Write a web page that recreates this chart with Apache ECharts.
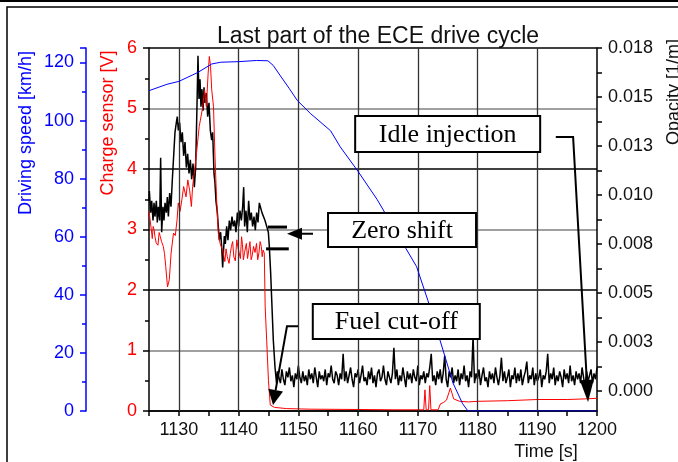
<!DOCTYPE html>
<html>
<head>
<meta charset="utf-8">
<script src="https://cdn.jsdelivr.net/npm/echarts@6/dist/echarts.min.js"></script>
<style>
  html, body { margin: 0; padding: 0; background: #fff; }
  #chart { width: 678px; height: 462px; }
</style>
</head>
<body>
<div id="chart"></div>
<script>
// Driving speed [km/h], [time s, value]
const speedData = [
  [1125, 110.3], [1128, 112.5], [1130, 113.5], [1133.2, 116.6], [1135.5, 119.5],
  [1137, 120.1], [1140, 120.3], [1143, 120.7], [1144.9, 120.6], [1145.8, 119],
  [1146.9, 115.7], [1148.5, 111], [1149.8, 107], [1152, 102.5], [1155.4, 96.5],
  [1157, 91], [1160, 82.5], [1163.2, 72.8], [1165, 66.5], [1168, 56], [1169.8, 49.7],
  [1171.7, 38], [1173.7, 24.5], [1175.9, 9.6], [1177.5, 2.5], [1178.4, 0], [1200, 0]
];

// Charge sensor [V]
const chargeData = [
  [1125.0, 3.3], [1125.2, 3.27], [1125.4, 2.99], [1125.55, 2.85], [1125.7, 3.05], [1125.85, 3.0],
  [1126.0, 2.88], [1126.2, 2.78], [1126.5, 2.74], [1126.7, 2.95], [1126.9, 2.88], [1127.1, 2.8],
  [1127.4, 2.72], [1127.6, 2.6], [1127.8, 2.39], [1128.1, 2.05], [1128.4, 2.17], [1128.7, 2.61],
  [1129.1, 2.94], [1129.4, 2.9], [1129.7, 3.16], [1129.9, 3.44], [1130.2, 3.3], [1130.5, 3.49],
  [1130.8, 3.71], [1131.2, 3.54], [1131.5, 3.82], [1131.8, 3.65], [1132.1, 3.38], [1132.3, 3.71],
  [1132.7, 4.04], [1133.0, 4.31], [1133.4, 4.7], [1133.7, 4.86], [1134.0, 5.03], [1134.3, 5.31],
  [1134.6, 5.03], [1134.9, 5.58], [1135.1, 5.86], [1135.3, 5.7], [1135.5, 5.31], [1135.8, 5.03],
  [1136.05, 4.2], [1136.3, 3.54], [1136.6, 2.94], [1136.9, 2.77], [1137.3, 2.66], [1137.5, 2.58],
  [1137.7, 2.47], [1137.9, 2.68], [1138.1, 2.55], [1138.4, 2.44], [1138.6, 2.6], [1138.8, 2.72],
  [1139.0, 2.8], [1139.2, 2.55], [1139.45, 2.48], [1139.7, 2.83], [1139.9, 2.7], [1140.1, 2.61],
  [1140.3, 2.52], [1140.5, 2.88], [1140.65, 2.75], [1140.8, 2.5], [1141.0, 2.62], [1141.3, 2.77],
  [1141.5, 2.52], [1141.7, 2.66], [1141.9, 2.8], [1142.1, 2.5], [1142.3, 2.58], [1142.5, 2.72],
  [1142.75, 2.62], [1143.0, 2.77], [1143.2, 2.5], [1143.4, 2.61], [1143.6, 2.8], [1143.8, 2.72],
  [1143.95, 2.55], [1144.1, 2.66], [1144.3, 2.61], [1144.45, 1.72], [1144.7, 1.17], [1145.0, 0.5],
  [1145.3, 0.1], [1146, 0.06], [1148, 0.04], [1152, 0.03], [1160, 0.025], [1166, 0.02],
  [1171.0, 0.02], [1171.2, 0.35], [1171.4, 0.02], [1171.8, 0.02], [1172.0, 0.42], [1172.2, 0.02],
  [1173.4, 0.02], [1173.8, 0.12], [1174.3, 0.14], [1174.8, 0.18], [1175.2, 0.3], [1175.45, 0.38],
  [1175.7, 0.3], [1176.0, 0.2], [1177, 0.16], [1178.5, 0.15], [1180, 0.16], [1185, 0.17],
  [1190, 0.19], [1195, 0.19], [1198, 0.2], [1200, 0.21]
];

// Opacity [1/m], before the fuel cut-off
const opacityEarly = [
  [1125.0, 0.0097], [1125.06, 0.0102], [1125.28, 0.0091], [1125.45, 0.0097], [1125.67, 0.0087],
  [1125.84, 0.0096], [1126.0, 0.0089], [1126.23, 0.0097], [1126.39, 0.0086], [1126.56, 0.0094],
  [1126.79, 0.0087], [1126.95, 0.0119], [1127.12, 0.0081], [1127.34, 0.0094], [1127.51, 0.0087],
  [1127.68, 0.0096], [1127.9, 0.0091], [1128.07, 0.0099], [1128.24, 0.0089], [1128.46, 0.0101],
  [1128.68, 0.0094], [1128.91, 0.0108], [1129.13, 0.012], [1129.35, 0.0132], [1129.58, 0.0137],
  [1129.74, 0.014], [1129.91, 0.0133], [1130.13, 0.0137], [1130.36, 0.0127], [1130.58, 0.0132],
  [1130.8, 0.012], [1131.03, 0.0127], [1131.25, 0.0114], [1131.47, 0.0121], [1131.7, 0.0111],
  [1131.92, 0.0118], [1132.14, 0.0108], [1132.37, 0.0116], [1132.59, 0.0104], [1132.81, 0.0114],
  [1133.03, 0.0145], [1133.2, 0.0171], [1133.37, 0.0149], [1133.54, 0.0159], [1133.7, 0.0145],
  [1133.87, 0.0154], [1134.04, 0.0143], [1134.21, 0.0155], [1134.37, 0.0147], [1134.6, 0.0152],
  [1134.82, 0.014], [1135.04, 0.0147], [1135.27, 0.0133], [1135.49, 0.0128], [1135.66, 0.0132],
  [1135.88, 0.0111], [1136.05, 0.0106], [1136.21, 0.0097], [1136.44, 0.0091], [1136.6, 0.0084],
  [1136.77, 0.0077], [1136.99, 0.0081], [1137.16, 0.0074], [1137.33, 0.0063], [1137.44, 0.0062],
  [1137.61, 0.0079], [1137.78, 0.0075], [1138.0, 0.0084], [1138.22, 0.0077], [1138.45, 0.0087],
  [1138.67, 0.0082], [1138.89, 0.0089], [1139.12, 0.0084], [1139.34, 0.0087], [1139.56, 0.0081],
  [1139.79, 0.0091], [1140.01, 0.0084], [1140.23, 0.0092], [1140.46, 0.0087], [1140.68, 0.0094],
  [1140.85, 0.0104], [1141.01, 0.0084], [1141.24, 0.0092], [1141.46, 0.0081], [1141.68, 0.0097],
  [1141.91, 0.0087], [1142.13, 0.0091], [1142.35, 0.0084], [1142.58, 0.0089], [1142.8, 0.0082],
  [1143.02, 0.0091], [1143.25, 0.0086], [1143.47, 0.0096], [1143.69, 0.0097], [1143.91, 0.0091],
  [1144.14, 0.0092], [1144.42, 0.0087], [1144.7, 0.0084], [1144.98, 0.0081], [1145.14, 0.0074],
  [1145.37, 0.006], [1145.59, 0.0043], [1145.81, 0.0026], [1146.1, 0.0012], [1146.35, 0.0004],
  [1146.5, 0.001]
];

// Opacity after the cut-off, sampled every 0.25 s, in 1e-4 1/m
const noiseStart = 1146.75;
const noiseStep = 0.25;
const opacityNoise = [
  9, 4, 11, 6, 3, 10, 7, 12, 5, 8,
  2, 9, 6, 13, 7, 4, 10, 5, 8, 3,
  11, 6, 9, 4, 12, 7, 2, 10, 6, 8,
  5, 11, 3, 9, 7, 13, 6, 4, 10, 8,
  3, 9, 6, 19, 5, 10, 4, 8, 12, 6,
  2, 9, 7, 11, 4, 8, 13, 5, 7, 3,
  10, 6, 12, 4, 8, 2, 9, 11, 5, 7,
  13, 6, 3, 10, 7, 4, 9, 22, 6, 11,
  3, 8, 5, 12, 7, 2, 10, 6, 9, 4,
  11, 7, 5, 13, 3, 8, 6, 10, 4, 9,
  7, 12, 19, 5, 8, 3, 10, 6, 11, 4,
  9, 18, 6, 2, 10, 7, 12, 4, 8, 5,
  11, 3, 9, 6, 13, 5, 8, 2, 10, 7,
  28, 4, 9, 6, 11, 3, 8, 12, 5, 7,
  2, 10, 6, 9, 4, 12, 7, 3, 8, 17,
  5, 10, 4, 7, 11, 2, 8, 6, 12, 4,
  9, 5, 11, 3, 7, 10, 15, 4, 8, 6,
  12, 3, 9, 5, 7, 11, 2, 8, 6, 10,
  19, 4, 9, 6, 12, 3, 8, 5, 10, 7,
  2, 11, 6, 9, 4, 13, 5, 8, 3, 10,
  6, 9, 4, 12, 7, 2, 10, 5, 8, 11,
  4, 9, 6, 12
];

const timeGrid = [1130, 1140, 1150, 1160, 1170, 1180, 1190];
const opacityTicks = [0, 0.0025, 0.005, 0.0075, 0.01, 0.0125, 0.015, 0.0175];
const opacityTickLabels = ['0.000', '0.003', '0.005', '0.008', '0.010', '0.013', '0.015', '0.018'];
const opacityMinor = [0, 0.00125, 0.0025, 0.00375, 0.005, 0.00625, 0.0075, 0.00875, 0.01,
  0.01125, 0.0125, 0.01375, 0.015, 0.01625, 0.0175];

// annotations in [time, charge V]
const notes = [
  { text: 'Idle injection', at: [1175.0, 4.58], w: 185, h: 36 },
  { text: 'Zero shift', at: [1167.36, 2.99], w: 148, h: 34 },
  { text: 'Fuel cut-off', at: [1166.4, 1.48], w: 167, h: 35 }
];
const arrows = [
  { path: [[1193.1, 4.53], [1196.0, 4.53], [1198.5, 0.15]], headW: 14, headL: 22 },
  { path: [[1152.46, 2.93], [1148.1, 2.93]], headW: 12, headL: 15 },
  { path: [[1149.95, 1.40], [1148.1, 1.40], [1145.76, 0.10]], headW: 15, headL: 15 }
];
const shiftMarks = [
  [[1144.9, 3.04], [1148.1, 3.04]],
  [[1144.6, 2.68], [1148.4, 2.68]]
];

const FONT = '"Liberation Sans", Arial, sans-serif';
const BLUE = '#0000ff';
const RED = '#ff0000';

const opacityData = opacityEarly.concat(
  opacityNoise.map((v, i) => [noiseStart + i * noiseStep, v / 10000])
);

const chart = echarts.init(document.getElementById('chart'));

chart.setOption({
  animation: false,
  backgroundColor: '#fff',
  title: {
    text: 'Last part of the ECE drive cycle',
    left: 373, top: 20, textAlign: 'center',
    textStyle: { fontFamily: FONT, fontSize: 23, fontWeight: 'normal', color: '#111' }
  },
  grid: { left: 149, right: 81, top: 48, bottom: 51, containLabel: false, outerBoundsMode: 'none' },
  xAxis: {
    type: 'value', min: 1125, max: 1200, interval: 5,
    axisLine: { lineStyle: { color: '#000', width: 1.5 } },
    axisTick: { length: 5, lineStyle: { color: '#000', width: 1.5 } },
    axisLabel: {
      fontFamily: FONT, fontSize: 18, color: '#111', margin: 10,
      formatter: v => (v % 10 === 0 ? String(v) : '')
    },
    splitLine: { show: false }
  },
  yAxis: [
    {
      type: 'value', min: 0, max: 6, interval: 1, position: 'left',
      axisLine: { show: true, lineStyle: { color: '#000', width: 1.5 } },
      axisTick: { show: true, length: 6, lineStyle: { color: '#000', width: 1.5 } },
      minorTick: { show: true, splitNumber: 2, length: 4, lineStyle: { color: '#000', width: 1.5 } },
      axisLabel: { fontFamily: FONT, fontSize: 18, color: RED, margin: 12 },
      splitLine: { show: true, lineStyle: { color: ['#000', '#808080'], width: 1.6 } }
    },
    {
      type: 'value', min: 0, max: 125, interval: 20, position: 'left', offset: 63,
      axisLine: { show: true, lineStyle: { color: BLUE, width: 1.5 } },
      axisTick: { show: true, length: 6, lineStyle: { color: BLUE, width: 1.5 } },
      minorTick: { show: true, splitNumber: 2, length: 4, lineStyle: { color: BLUE, width: 1.5 } },
      axisLabel: {
        fontFamily: FONT, fontSize: 18, color: BLUE, margin: 12,
        formatter: v => (v <= 120 ? String(v) : '')
      },
      splitLine: { show: false }
    },
    {
      type: 'value', min: -0.00102, max: 0.0175, position: 'right',
      axisLine: { show: true, lineStyle: { color: '#000', width: 1.5 } },
      axisTick: { show: true, length: 5, customValues: opacityMinor, lineStyle: { color: '#000', width: 1.5 } },
      axisLabel: {
        fontFamily: FONT, fontSize: 18, color: '#111', margin: 11,
        customValues: opacityTicks,
        formatter: v => opacityTickLabels[Math.round(v / 0.0025)] || ''
      },
      splitLine: { show: false }
    }
  ],
  series: [
    {
      type: 'line', yAxisIndex: 0, data: [], z: 1, silent: true,
      markLine: {
        silent: true, symbol: ['none', 'none'], label: { show: false },
        lineStyle: { color: '#333', width: 1.3, type: 'solid' },
        data: timeGrid.map(t => ({ xAxis: t }))
      }
    },
    {
      name: 'Opacity', type: 'line', yAxisIndex: 2, data: opacityData,
      showSymbol: false, lineStyle: { color: '#000', width: 1.5 }, z: 3
    },
    {
      name: 'Charge sensor', type: 'line', yAxisIndex: 0, data: chargeData,
      showSymbol: false, lineStyle: { color: RED, width: 1 }, z: 4
    },
    {
      name: 'Driving speed', type: 'line', yAxisIndex: 1, data: speedData,
      showSymbol: false, lineStyle: { color: BLUE, width: 1 }, z: 5
    }
  ]
});

// annotation boxes and arrows, placed through the axes
const toPx = p => chart.convertToPixel({ xAxisIndex: 0, yAxisIndex: 0 }, p);
const graphics = [];

notes.forEach(n => {
  const c = toPx(n.at);
  graphics.push({
    type: 'rect', z: 100,
    shape: { x: c[0] - n.w / 2, y: c[1] - n.h / 2, width: n.w, height: n.h },
    style: { fill: '#fff', stroke: '#000', lineWidth: 2 }
  });
  graphics.push({
    type: 'text', z: 101, x: c[0], y: c[1] + 1,
    style: {
      text: n.text, font: '26px "Liberation Serif", "Times New Roman", serif', fill: '#000',
      textAlign: 'center', textVerticalAlign: 'middle', align: 'center', verticalAlign: 'middle'
    }
  });
});

arrows.forEach(a => {
  const pts = a.path.map(toPx);
  const tip = pts[pts.length - 1];
  const prev = pts[pts.length - 2];
  const dx = tip[0] - prev[0], dy = tip[1] - prev[1];
  const len = Math.hypot(dx, dy);
  const ux = dx / len, uy = dy / len;
  const base = [tip[0] - ux * a.headL, tip[1] - uy * a.headL];
  graphics.push({
    type: 'polyline', z: 100,
    shape: { points: pts.slice(0, -1).concat([base]) },
    style: { stroke: '#000', lineWidth: 2, fill: null }
  });
  graphics.push({
    type: 'polygon', z: 100,
    shape: { points: [tip,
      [base[0] - uy * a.headW / 2, base[1] + ux * a.headW / 2],
      [base[0] + uy * a.headW / 2, base[1] - ux * a.headW / 2]] },
    style: { fill: '#000' }
  });
});

shiftMarks.forEach(m => {
  const p = m.map(toPx);
  graphics.push({
    type: 'line', z: 100,
    shape: { x1: p[0][0], y1: p[0][1], x2: p[1][0], y2: p[1][1] },
    style: { stroke: '#000', lineWidth: 3 }
  });
});

// axis names
const nameStyle = (text, fill) => ({
  text, fill, font: '18px ' + FONT,
  textAlign: 'center', textVerticalAlign: 'middle', align: 'center', verticalAlign: 'middle'
});
graphics.push({ type: 'text', x: 26, y: 133, rotation: Math.PI / 2, style: nameStyle('Driving speed [km/h]', BLUE) });
graphics.push({ type: 'text', x: 108, y: 123, rotation: Math.PI / 2, style: nameStyle('Charge sensor [V]', RED) });
graphics.push({ type: 'text', x: 674, y: 92, rotation: Math.PI / 2, style: nameStyle('Opacity [1/m]', '#111') });
graphics.push({ type: 'text', x: 546, y: 452, style: nameStyle('Time [s]', '#111') });

// frame round the figure
graphics.push({ type: 'line', shape: { x1: 0, y1: 1, x2: 678, y2: 1 }, style: { stroke: '#000', lineWidth: 2 } });
graphics.push({ type: 'rect', shape: { x: 7, y: 7, width: 700, height: 500 }, style: { fill: null, stroke: '#000', lineWidth: 1.5 } });

chart.setOption({ graphic: graphics });
</script>
</body>
</html>
